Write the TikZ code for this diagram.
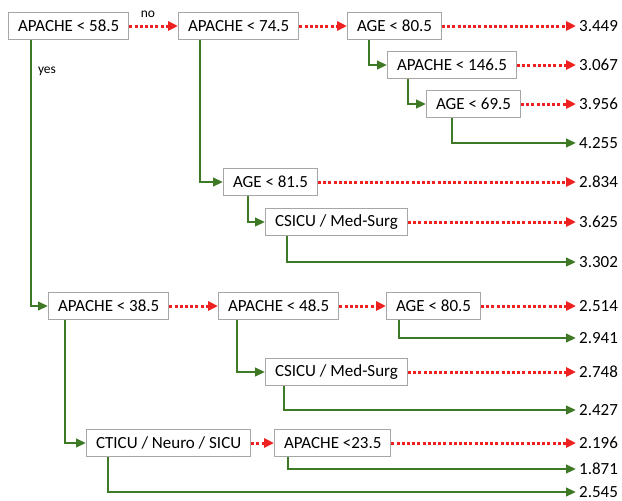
\documentclass[tikz,border=0pt]{standalone}
\usepackage{fontspec}
\setmainfont{Carlito}
\usetikzlibrary{arrows.meta, positioning, calc}
\definecolor{yesgreen}{RGB}{62,122,38}
\definecolor{nored}{RGB}{238,32,32}

\begin{document}
\begin{tikzpicture}[x=1pt, y=-1pt,
      font=\fontsize{17}{20}\selectfont,
      test/.style={rectangle, draw=black!35, line width=1pt, fill=white, anchor=west, minimum height=27pt, inner xsep=9.5pt},
      leaf/.style={anchor=west, inner xsep=3pt},
      lbl/.style={font=\fontsize{13.5}{16}\selectfont},
      yesarrow/.style={-{Triangle[length=10pt,width=8.5pt]}, line width=2.6pt, draw=yesgreen},
      noarrow/.style={-{Triangle[length=10pt,width=9pt]}, line width=3pt, draw=nored, dash pattern=on 3pt off 2.2pt}
    ]
    \useasboundingbox (0,0) rectangle (622,501);

    % tests
    \node[test] (ap58) at (8,26) {APACHE < 58.5};
    \node[test] (ap74) at (178,26) {APACHE < 74.5};
    \node[test] (age80) at (347,26) {AGE < 80.5};
    \node[test] (ap146) at (387,65) {APACHE < 146.5};
    \node[test] (age69) at (426,104) {AGE < 69.5};
    \node[test] (age81) at (223,182) {AGE < 81.5};
    \node[test] (csicu) at (265,222) {CSICU / Med-Surg};
    \node[test] (ap38) at (48,306) {APACHE < 38.5};
    \node[test] (ap48) at (218,306) {APACHE < 48.5};
    \node[test] (age80b) at (386,306) {AGE < 80.5};
    \node[test] (csicub) at (265,372) {CSICU / Med-Surg};
    \node[test] (cticu) at (86,443) {CTICU / Neuro / SICU};
    \node[test] (ap23) at (274,443) {APACHE <23.5};

    % leaves
    \node[leaf] (v1) at (576,26) {3.449};
    \node[leaf] (v2) at (576,65) {3.067};
    \node[leaf] (v3) at (576,104) {3.956};
    \node[leaf] (v4) at (576,143) {4.255};
    \node[leaf] (v5) at (576,182) {2.834};
    \node[leaf] (v6) at (576,222) {3.625};
    \node[leaf] (v7) at (576,262) {3.302};
    \node[leaf] (v8) at (576,306) {2.514};
    \node[leaf] (v9) at (576,338) {2.941};
    \node[leaf] (v10) at (576,372) {2.748};
    \node[leaf] (v11) at (576,410) {2.427};
    \node[leaf] (v12) at (576,443) {2.196};
    \node[leaf] (v13) at (576,469) {1.871};
    \node[leaf] (v14) at (576,492) {2.545};

    \node[lbl] (no) at (148,14) {no};
    \node[lbl] (yes) at (47,71) {yes};

    % no branches
    \draw[noarrow] (ap58) -- (ap74);
    \draw[noarrow] (ap74) -- (age80);
    \draw[noarrow] (age80) -- (v1);
    \draw[noarrow] (ap146) -- (v2);
    \draw[noarrow] (age69) -- (v3);
    \draw[noarrow] (age81) -- (v5);
    \draw[noarrow] (csicu) -- (v6);
    \draw[noarrow] (ap38) -- (ap48);
    \draw[noarrow] (ap48) -- (age80b);
    \draw[noarrow] (age80b) -- (v8);
    \draw[noarrow] (csicub) -- (v10);
    \draw[noarrow] (cticu) -- (ap23);
    \draw[noarrow] (ap23) -- (v12);

    % yes branches
    \draw[yesarrow] ([xshift=23pt]ap58.south west) |- (ap38.west);
    \draw[yesarrow] ([xshift=22pt]ap74.south west) |- (age81.west);
    \draw[yesarrow] ([xshift=22pt]age80.south west) |- (ap146.west);
    \draw[yesarrow] ([xshift=21pt]ap146.south west) |- (age69.west);
    \draw[yesarrow] ([xshift=26pt]age69.south west) |- (v4.west);
    \draw[yesarrow] ([xshift=25pt]age81.south west) |- (csicu.west);
    \draw[yesarrow] ([xshift=22pt]csicu.south west) |- (v7.west);
    \draw[yesarrow] ([xshift=17pt]ap38.south west) |- (cticu.west);
    \draw[yesarrow] ([xshift=19pt]ap48.south west) |- (csicub.west);
    \draw[yesarrow] ([xshift=13pt]age80b.south west) |- (v9.west);
    \draw[yesarrow] ([xshift=19pt]csicub.south west) |- (v11.west);
    \draw[yesarrow] ([xshift=22pt]cticu.south west) |- (v14.west);
    \draw[yesarrow] ([xshift=14pt]ap23.south west) |- (v13.west);
  \end{tikzpicture}
\end{document}
